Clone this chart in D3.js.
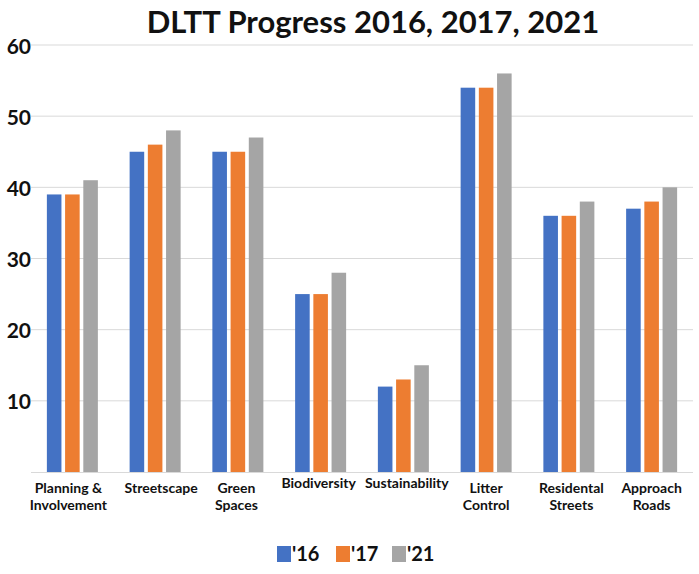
<!DOCTYPE html>
<html>
<head>
<meta charset="utf-8">
<script src="https://cdn.jsdelivr.net/npm/d3@7"></script>
<style>
  body { margin: 0; background: #fff; }
  text { font-family: Lato, "Open Sans", sans-serif; font-weight: bold; }
</style>
</head>
<body>
<svg id="chart" width="699" height="574"></svg>
<script>
// data
const categories = [
  ["Planning &", "Involvement"],
  ["Streetscape"],
  ["Green", "Spaces"],
  ["Biodiversity"],
  ["Sustainability"],
  ["Litter", "Control"],
  ["Residental", "Streets"],
  ["Approach", "Roads"]
];
const seriesNames = ["'16", "'17", "'21"];
const v16 = [39, 45, 45, 25, 12, 54, 36, 37];
const v17 = [39, 46, 45, 25, 13, 54, 36, 38];
const v21 = [41, 48, 47, 28, 15, 56, 38, 40];
const yTicks = [10, 20, 30, 40, 50, 60];

const colors = ["#4472C4", "#ED7D31", "#A5A5A5"];
const series = [v16, v17, v21];

const svg = d3.select("#chart");
const plotLeft = 31, plotRight = 693, plotTop = 45, plotBottom = 472;

const x = d3.scaleBand()
  .domain(d3.range(categories.length))
  .range([plotLeft, plotRight]);

const xInner = d3.scaleBand()
  .domain(d3.range(series.length))
  .range([x.bandwidth() / 2 - 25.5, x.bandwidth() / 2 + 25.5])
  .paddingInner(0.2);

const y = d3.scaleLinear().domain([0, 60]).range([plotBottom, plotTop]);

// gridlines
svg.append("g")
  .selectAll("line")
  .data(yTicks)
  .join("line")
  .attr("x1", plotLeft)
  .attr("x2", plotRight)
  .attr("y1", d => y(d))
  .attr("y2", d => y(d))
  .attr("stroke", "#d9d9d9")
  .attr("stroke-width", 1);

// y labels
svg.append("g")
  .selectAll("text")
  .data(yTicks)
  .join("text")
  .attr("x", 31)
  .attr("y", d => y(d))
  .attr("text-anchor", "end")
  .attr("dominant-baseline", "central")
  .style("font-size", "21px")
  .style("fill", "#111")
  .text(d => d);

// bars
series.forEach((vals, s) => {
  svg.append("g")
    .selectAll("rect")
    .data(vals)
    .join("rect")
    .attr("x", (d, i) => x(i) + xInner(s))
    .attr("width", xInner.bandwidth())
    .attr("y", d => y(d))
    .attr("height", d => y(0) - y(d))
    .attr("fill", colors[s]);
});

// axis line
svg.append("line")
  .attr("x1", plotLeft).attr("x2", plotRight)
  .attr("y1", plotBottom + 0.5).attr("y2", plotBottom + 0.5)
  .attr("stroke", "#d9d9d9");

// category labels - the original ones are nudged a little off-centre
const labelDx = [-4, 6, -1.5, -2, 3.5, 0, 2.5, 0];
const labels = svg.append("g")
  .selectAll("text")
  .data(categories)
  .join("text")
  .attr("x", (d, i) => x(i) + x.bandwidth() / 2 + labelDx[i])
  .attr("y", (d, i) => (i === 3 || i === 4) ? 488 : 493)
  .attr("text-anchor", "middle")
  .style("font-size", "14px")
  .style("fill", "#111");
labels.selectAll("tspan")
  .data(d => d)
  .join("tspan")
  .attr("x", function () { return this.parentNode.getAttribute("x"); })
  .attr("dy", (d, i) => i === 0 ? 0 : 17)
  .text(d => d);

// title
svg.append("text")
  .attr("x", 373)
  .attr("y", 33)
  .attr("text-anchor", "middle")
  .style("font-size", "31px")
  .style("fill", "#111")
  .text("DLTT Progress 2016, 2017, 2021");

// legend
const legendX = [277, 336, 392];
const legend = svg.append("g")
  .selectAll("g")
  .data(seriesNames)
  .join("g")
  .attr("transform", (d, i) => `translate(${legendX[i]},546)`);
legend.append("rect")
  .attr("width", 14).attr("height", 16)
  .attr("fill", (d, i) => colors[i]);
legend.append("text")
  .attr("x", 15)
  .attr("y", 15)
  .style("font-size", "20px")
  .style("fill", "#111")
  .text(d => d);
</script>
</body>
</html>
